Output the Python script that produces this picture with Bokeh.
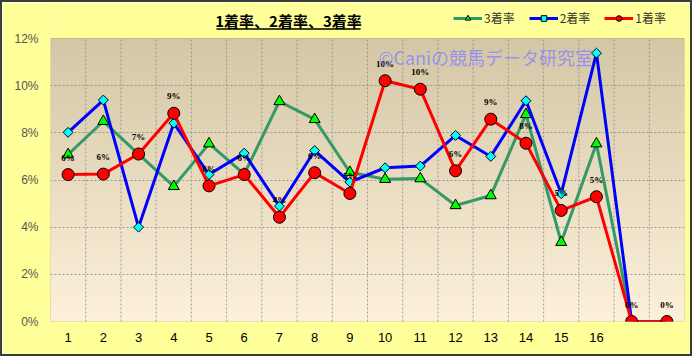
import numpy as np
from bokeh.plotting import figure
from bokeh.models import (Range1d, FixedTicker, Label, Legend, LegendItem,
                          BoxAnnotation, Arrow, ColumnDataSource, LabelSet)
from bokeh.embed import file_html
from bokeh.resources import INLINE

# ---------------- data ----------------
categories = [str(i) for i in range(1, 17)] + ["", ""]
rate1 = [6.23, 6.25, 7.10, 8.83, 5.75, 6.23, 4.42, 6.31, 5.43, 10.21,
         9.85, 6.39, 8.58, 7.56, 4.71, 5.29, 0.0, 0.0]
rate2 = [8.02, 9.39, 4.00, 8.41, 6.23, 7.14, 4.89, 7.25, 5.91, 6.52,
         6.59, 7.89, 7.00, 9.36, 5.42, 11.38, 0.0, 0.0]
rate3 = [7.08, 8.49, 7.10, 5.73, 7.54, 6.25, 9.33, 8.57, 6.33, 6.03,
         6.06, 4.92, 5.34, 8.78, 3.36, 7.54, 0.0, 0.0]
y_ticks = [0, 2, 4, 6, 8, 10, 12]
y_tick_labels = ["0%", "2%", "4%", "6%", "8%", "10%", "12%"]
series_names = ["1着率", "2着率", "3着率"]
title_text = "1着率、2着率、3着率"
watermark = "©Caniの競馬データ研究室"

# ---------------- layout (reference pixel coords) ----------------
OFF = 2                      # css border width
W, H = 696 - 2 * OFF, 360 - 2 * OFF
PL, PR, PT, PB = 50, 684, 38, 321   # plot area in page pixels
n = len(categories)
X0, X1 = 0.5, n + 0.5
Y0, YTOP = 0, 12


def px2x(px):
    return X0 + (px - PL) / (PR - PL) * (X1 - X0)


def px2y(py):
    return Y0 + (PB - py) / (PB - PT) * (YTOP - Y0)


Y1 = px2y(OFF)   # frame extends to top of canvas

p = figure(width=W, height=H, x_range=Range1d(X0, X1), y_range=Range1d(Y0, Y1),
           output_backend="svg", toolbar_location=None,
           min_border_left=PL - OFF, min_border_right=(696 - OFF) - PR,
           min_border_top=0, min_border_bottom=(360 - OFF) - PB)
p.styles = {"border": f"{OFF}px solid #3c3c3c"}
p.title.visible = False
p.border_fill_color = "#FFFF99"
p.background_fill_color = "#FFFF99"
p.outline_line_color = None

# gradient background of the plot area
rows = 200
top = np.array([212, 199, 166], dtype=float)
bot = np.array([253, 241, 219], dtype=float)
t = np.linspace(0, 1, rows)[:, None]
cols = bot * (1 - t) + top * t
img = np.empty((rows, 1), dtype=np.uint32)
view = img.view(dtype=np.uint8).reshape((rows, 1, 4))
view[:, 0, 0] = cols[:, 0].astype(np.uint8)
view[:, 0, 1] = cols[:, 1].astype(np.uint8)
view[:, 0, 2] = cols[:, 2].astype(np.uint8)
view[:, 0, 3] = 255
p.image_rgba(image=[img], x=X0, y=Y0, dw=X1 - X0, dh=YTOP - Y0, level="image")

# axes
xs = list(range(1, n + 1))
p.xaxis.ticker = FixedTicker(ticks=xs)
p.xaxis.major_label_overrides = {x: c for x, c in zip(xs, categories)}
p.yaxis.ticker = FixedTicker(ticks=y_ticks)
p.yaxis.major_label_overrides = {v: s for v, s in zip(y_ticks, y_tick_labels)}
for ax in (p.xaxis, p.yaxis):
    ax.axis_line_color = None
    ax.major_tick_line_color = None
    ax.minor_tick_line_color = None
    ax.major_label_text_font = "Liberation Sans"
p.xaxis.major_label_text_font_size = "13px"
p.xaxis.major_label_text_color = "#000000"
p.xaxis.major_label_standoff = 5
p.yaxis.major_label_text_font_size = "12px"
p.yaxis.major_label_text_color = "#555555"
p.yaxis.major_label_standoff = 6

# grid
p.xgrid.visible = False
p.ygrid.ticker = FixedTicker(ticks=y_ticks[:-1])
p.ygrid.grid_line_color = "#8a8a8a"
p.ygrid.grid_line_dash = "2 2"
p.ygrid.grid_line_alpha = 0.8
bounds = [x + 0.5 for x in xs[:-1]]
p.segment(x0=bounds, x1=bounds, y0=[Y0] * len(bounds), y1=[YTOP] * len(bounds),
          line_color="#8a8a8a", line_dash="2 2", line_alpha=0.8, line_width=1,
          level="underlay")

# plot-area frame
p.add_layout(BoxAnnotation(left=X0, right=X1, bottom=Y0, top=YTOP,
                           fill_alpha=0, line_color="#5a5a5a", line_width=1,
                           level="underlay"))

src = ColumnDataSource(dict(x=xs, r1=rate1, r2=rate2, r3=rate3,
                            lab=[f"{int(v + 0.5)}%" for v in rate1]))

g_line = p.line("x", "r3", source=src, line_color="#339966", line_width=3)
g_pts = p.scatter("x", "r3", source=src, marker="triangle", size=11,
                  fill_color="#00FF00", line_color="#000000", line_width=1)
b_line = p.line("x", "r2", source=src, line_color="#0000FF", line_width=3)
b_pts = p.scatter("x", "r2", source=src, marker="square", angle=np.pi / 4, size=7,
                  fill_color="#00FFFF", line_color="#000000", line_width=1)
r_line = p.line("x", "r1", source=src, line_color="#FF0000", line_width=3)
r_pts = p.scatter("x", "r1", source=src, marker="circle", size=12,
                  fill_color="#FF0000", line_color="#000000", line_width=1)

labels = LabelSet(x="x", y="r1", text="lab", source=src, y_offset=17,
                  text_align="center", text_baseline="middle",
                  text_font="Liberation Sans", text_font_style="bold",
                  text_font_size="9px", text_color="#000000")
p.add_layout(labels)

# watermark
p.add_layout(Label(x=px2x(378), y=px2y(56), text=watermark,
                   text_font="Noto Sans CJK JP", text_font_size="18px",
                   text_color="#8080FF", text_alpha=0.75,
                   text_align="left", text_baseline="middle"))

# title + underline
p.add_layout(Label(x=px2x(288), y=px2y(20), text=title_text,
                   text_font="Noto Sans CJK JP", text_font_style="bold",
                   text_font_size="15px", text_color="#000000",
                   text_align="center", text_baseline="middle"))
p.add_layout(Arrow(x_start=px2x(216), y_start=px2y(28.5), x_end=px2x(360), y_end=px2y(28.5),
                   start=None, end=None, line_color="#000000", line_width=1.5))

# legend
legend = Legend(items=[LegendItem(label=series_names[2], renderers=[g_line, g_pts]),
                       LegendItem(label=series_names[1], renderers=[b_line, b_pts]),
                       LegendItem(label=series_names[0], renderers=[r_line, r_pts])],
                orientation="horizontal", location=(453 - PL, PB - 26),
                background_fill_alpha=0, border_line_color=None,
                padding=0, margin=0, spacing=14, glyph_width=29, glyph_height=14,
                label_standoff=2, label_height=14,
                label_text_font="Noto Sans CJK JP", label_text_font_size="12px",
                label_text_color="#333333")
p.add_layout(legend)

open("out.html", "w").write(file_html(p, INLINE))
